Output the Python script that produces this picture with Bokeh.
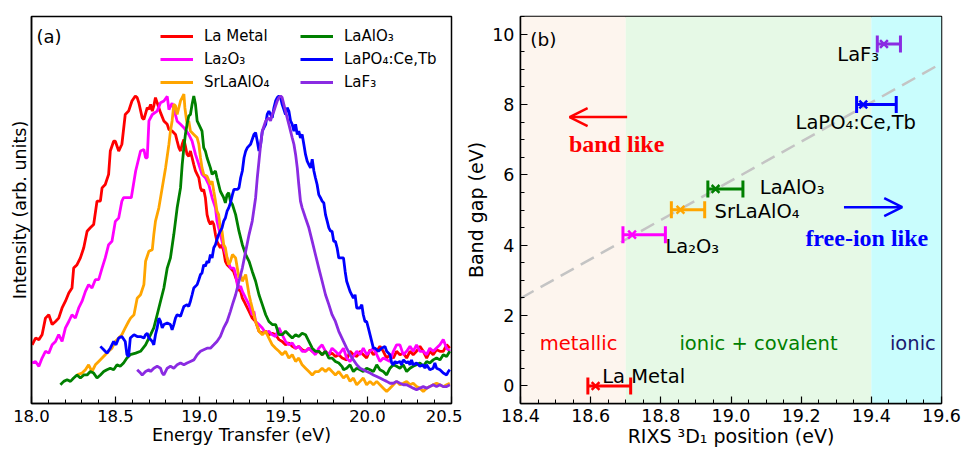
from bokeh.plotting import figure
from bokeh.layouts import row
from bokeh.models import (ColumnDataSource, SingleIntervalTicker, FixedTicker, PrintfTickFormatter,
                          Legend, LegendItem, Label, Arrow, OpenHead, BoxAnnotation)
from bokeh.embed import file_html
from bokeh.resources import INLINE

FONT = "DejaVu Sans"

# ---------------- Panel (a): RIXS spectra (normalised intensity, arb. units) ----------------
TAIL_E = [19.857, 19.876, 19.896, 19.916, 19.936, 19.956, 19.975, 19.995, 20.015, 20.035, 20.055,
          20.074, 20.094, 20.114, 20.134, 20.154, 20.173, 20.193, 20.213, 20.233, 20.253, 20.272,
          20.292, 20.312, 20.332, 20.352, 20.371, 20.391, 20.411, 20.431, 20.451, 20.471, 20.490]

LA_METAL_E = [18.004, 18.024, 18.044, 18.063, 18.083, 18.103, 18.123, 18.143, 18.162, 18.182,
              18.202, 18.222, 18.241, 18.251, 18.271, 18.291, 18.311, 18.331, 18.350, 18.370,
              18.390, 18.410, 18.420, 18.439, 18.459, 18.469, 18.489, 18.499, 18.519, 18.538,
              18.558, 18.578, 18.598, 18.618, 18.629, 18.639, 18.659, 18.669, 18.689, 18.699,
              18.709, 18.719, 18.728, 18.738, 18.748, 18.768, 18.788, 18.808, 18.818, 18.837,
              18.857, 18.867, 18.877, 18.887, 18.897, 18.907, 18.916, 18.926, 18.936, 18.946,
              18.956, 18.966, 18.976, 18.986, 18.996, 19.006, 19.015, 19.025, 19.035, 19.045,
              19.055, 19.065, 19.075, 19.085, 19.095, 19.104, 19.114, 19.124, 19.134, 19.144,
              19.154, 19.164, 19.184, 19.203, 19.223, 19.235, 19.245, 19.255, 19.265, 19.275,
              19.295, 19.314, 19.334, 19.354, 19.374, 19.394, 19.413, 19.433, 19.453, 19.473,
              19.492, 19.512, 19.532, 19.552, 19.572, 19.591, 19.611, 19.631, 19.651, 19.671,
              19.690, 19.710, 19.730, 19.750, 19.770, 19.789, 19.809, 19.829, 19.849, 19.876,
              19.896, 19.916, 19.936, 19.956, 19.975, 19.995, 20.015, 20.035, 20.055, 20.074,
              20.094, 20.114, 20.134, 20.154, 20.173, 20.193, 20.213, 20.233, 20.253, 20.272,
              20.292, 20.312, 20.332, 20.352, 20.371, 20.391, 20.411, 20.431, 20.451, 20.471,
              20.490]
LA_METAL_I = [0.191, 0.213, 0.208, 0.224, 0.278, 0.289, 0.257, 0.267, 0.278, 0.311,
              0.333, 0.360, 0.376, 0.441, 0.452, 0.474, 0.507, 0.561, 0.572, 0.583,
              0.659, 0.659, 0.702, 0.713, 0.746, 0.822, 0.854, 0.854, 0.822, 0.844,
              0.941, 0.952, 0.985, 1.001, 0.996, 0.979, 0.930, 0.925, 0.963, 0.958,
              0.974, 0.952, 0.969, 0.996, 0.979, 0.947, 0.920, 0.909, 0.892, 0.887,
              0.876, 0.854, 0.833, 0.822, 0.844, 0.860, 0.838, 0.811, 0.805, 0.822,
              0.800, 0.778, 0.757, 0.746, 0.735, 0.702, 0.691, 0.697, 0.670, 0.615,
              0.594, 0.583, 0.594, 0.583, 0.550, 0.528, 0.517, 0.507, 0.517, 0.496,
              0.463, 0.452, 0.441, 0.430, 0.398, 0.370, 0.365, 0.343, 0.333, 0.322,
              0.300, 0.278, 0.267, 0.235, 0.229, 0.235, 0.224, 0.229, 0.224, 0.208,
              0.202, 0.191, 0.197, 0.186, 0.180, 0.186, 0.175, 0.170, 0.180, 0.170,
              0.164, 0.170, 0.159, 0.170, 0.159, 0.164, 0.153, 0.159, 0.148, 0.142,
              0.170, 0.159, 0.153, 0.170, 0.159, 0.148, 0.175, 0.159, 0.170, 0.186,
              0.170, 0.148, 0.159, 0.148, 0.170, 0.159, 0.164, 0.148, 0.170, 0.159,
              0.170, 0.186, 0.170, 0.148, 0.170, 0.159, 0.175, 0.170, 0.170, 0.191,
              0.180]

LA2O3_E = [18.004, 18.024, 18.044, 18.063, 18.083, 18.103, 18.123, 18.143, 18.162, 18.182,
           18.202, 18.222, 18.241, 18.261, 18.281, 18.301, 18.321, 18.340, 18.360, 18.380,
           18.400, 18.420, 18.439, 18.459, 18.479, 18.499, 18.519, 18.538, 18.548, 18.594,
           18.620, 18.649, 18.669, 18.679, 18.689, 18.699, 18.719, 18.748, 18.768, 18.788,
           18.808, 18.818, 18.837, 18.857, 18.867, 18.887, 18.907, 18.936, 18.956, 18.976,
           18.996, 19.015, 19.035, 19.055, 19.075, 19.095, 19.104, 19.124, 19.144, 19.164,
           19.184, 19.205, 19.215, 19.225, 19.235, 19.245, 19.255, 19.275, 19.295, 19.314,
           19.324, 19.334, 19.354, 19.374, 19.394, 19.413, 19.433, 19.453, 19.473, 19.492,
           19.512, 19.532, 19.552, 19.572, 19.591, 19.611, 19.631, 19.651, 19.671, 19.690,
           19.710, 19.730, 19.750, 19.770, 19.789, 19.809, 19.829, 19.857, 19.876, 19.896,
           19.936, 19.956, 19.975, 19.995, 20.015, 20.035, 20.055, 20.074, 20.094, 20.134,
           20.154, 20.173, 20.193, 20.213, 20.233, 20.253, 20.272, 20.292, 20.312, 20.332,
           20.352, 20.371, 20.391, 20.431, 20.451, 20.471, 20.490]
LA2O3_I = [0.132, 0.137, 0.121, 0.148, 0.170, 0.164, 0.191, 0.202, 0.224, 0.202,
           0.246, 0.267, 0.289, 0.278, 0.311, 0.333, 0.365, 0.387, 0.376, 0.403,
           0.403, 0.441, 0.474, 0.517, 0.528, 0.593, 0.604, 0.659, 0.670, 0.670,
           0.757, 0.822, 0.827, 0.800, 0.800, 0.920, 0.941, 0.952, 0.979, 0.985,
           1.000, 0.957, 0.978, 0.940, 0.919, 0.909, 0.898, 0.876, 0.854, 0.811,
           0.778, 0.746, 0.735, 0.713, 0.670, 0.637, 0.594, 0.550, 0.507, 0.474,
           0.441, 0.441, 0.420, 0.387, 0.376, 0.382, 0.365, 0.343, 0.322, 0.289,
           0.300, 0.267, 0.257, 0.246, 0.229, 0.235, 0.224, 0.218, 0.246, 0.224,
           0.202, 0.191, 0.197, 0.180, 0.186, 0.170, 0.170, 0.180, 0.170, 0.159,
           0.180, 0.191, 0.170, 0.159, 0.180, 0.170, 0.159, 0.180, 0.148, 0.137,
           0.170, 0.159, 0.180, 0.159, 0.170, 0.180, 0.159, 0.137, 0.148, 0.137,
           0.170, 0.191, 0.191, 0.159, 0.170, 0.186, 0.170, 0.191, 0.170, 0.170,
           0.159, 0.180, 0.170, 0.191, 0.208, 0.180, 0.170]

SRLAALO4_E = [18.271, 18.301, 18.321, 18.340, 18.360, 18.380, 18.400, 18.420, 18.439, 18.459,
              18.479, 18.499, 18.519, 18.538, 18.558, 18.578,
              18.590, 18.610, 18.629, 18.649, 18.669, 18.679, 18.699, 18.719, 18.728, 18.738,
              18.758, 18.778, 18.798, 18.818, 18.827, 18.837, 18.847, 18.857, 18.867, 18.877,
              18.887, 18.897, 18.907, 18.913, 18.926, 18.936, 18.946, 18.966, 18.986, 18.996,
              19.006, 19.015, 19.025, 19.045, 19.065, 19.075, 19.085, 19.095, 19.104, 19.114,
              19.124, 19.134, 19.144, 19.154, 19.164, 19.174, 19.184,
              19.196, 19.215, 19.225, 19.235, 19.245, 19.255, 19.275, 19.285, 19.295, 19.304,
              19.314, 19.334, 19.354, 19.374, 19.394, 19.413, 19.433, 19.453, 19.473, 19.492,
              19.512, 19.532, 19.552, 19.572, 19.591, 19.611, 19.631, 19.651, 19.671, 19.690,
              19.710, 19.730, 19.750, 19.770, 19.789, 19.809, 19.829] + TAIL_E
SRLAALO4_I = [0.093, 0.099, 0.110, 0.126, 0.104, 0.126, 0.137, 0.148, 0.159, 0.170,
              0.180, 0.202, 0.213, 0.224, 0.246, 0.267,
              0.278, 0.289, 0.343, 0.354, 0.387, 0.463, 0.496, 0.501, 0.550, 0.594,
              0.637, 0.702, 0.767, 0.844, 0.887, 0.920, 0.974, 0.969, 0.941, 0.963,
              0.985, 0.996, 1.007, 0.963, 0.909, 0.920, 0.887, 0.876, 0.865, 0.844,
              0.800, 0.767, 0.746, 0.740, 0.713, 0.724, 0.691, 0.659, 0.626, 0.615,
              0.572, 0.561, 0.517, 0.507, 0.474, 0.452, 0.463,
              0.485, 0.474, 0.441, 0.409, 0.420, 0.398, 0.420, 0.387, 0.354, 0.333,
              0.311, 0.267, 0.235, 0.224, 0.235, 0.213, 0.191, 0.180, 0.170, 0.159,
              0.170, 0.148, 0.159, 0.137, 0.148, 0.126, 0.115, 0.104, 0.093, 0.104,
              0.104, 0.115, 0.104, 0.115, 0.104, 0.093, 0.104,
              0.083, 0.093, 0.072, 0.083, 0.061, 0.072, 0.083, 0.061, 0.072, 0.061,
              0.072, 0.061, 0.050, 0.039, 0.050, 0.061, 0.072, 0.061, 0.066, 0.072,
              0.061, 0.066, 0.055, 0.050, 0.039, 0.050, 0.055, 0.061, 0.066, 0.061,
              0.055, 0.061, 0.066]

LAALO3_E = [18.172, 18.192, 18.212, 18.232, 18.251, 18.271, 18.291, 18.311, 18.331, 18.350,
            18.370, 18.390, 18.410, 18.430, 18.449, 18.469, 18.489, 18.509, 18.528, 18.548,
            18.568, 18.588,
            18.620, 18.649, 18.679, 18.709, 18.728, 18.748, 18.768, 18.788, 18.808, 18.827,
            18.847, 18.867, 18.887, 18.897, 18.907, 18.916, 18.926, 18.936, 18.946, 18.956,
            18.966, 18.976, 18.986, 18.996, 19.015, 19.025, 19.035, 19.045, 19.065, 19.075,
            19.095, 19.104, 19.114, 19.124, 19.144, 19.154, 19.164, 19.174, 19.184,
            19.196, 19.215, 19.235, 19.255, 19.275, 19.295, 19.314, 19.334, 19.354, 19.374,
            19.394, 19.413, 19.433, 19.453, 19.473, 19.492, 19.512, 19.532, 19.552, 19.572,
            19.591, 19.611, 19.631, 19.651, 19.671, 19.690, 19.710, 19.730, 19.750, 19.770,
            19.789, 19.809, 19.829, 19.849] + TAIL_E
LAALO3_I = [0.061, 0.072, 0.077, 0.072, 0.083, 0.093, 0.083, 0.093, 0.093, 0.104,
            0.099, 0.083, 0.093, 0.104, 0.110, 0.115, 0.110, 0.126, 0.121, 0.132,
            0.148, 0.159,
            0.164, 0.170, 0.191, 0.224, 0.246, 0.289, 0.333, 0.376, 0.441, 0.474,
            0.550, 0.637, 0.702, 0.778, 0.833, 0.876, 0.909, 0.936, 0.941, 0.974,
            1.001, 0.974, 0.920, 0.909, 0.887, 0.833, 0.822, 0.800, 0.767, 0.746,
            0.757, 0.735, 0.713, 0.691, 0.670, 0.653, 0.680, 0.686, 0.659,
            0.648, 0.615, 0.561, 0.517, 0.485, 0.463, 0.430, 0.398, 0.354, 0.322,
            0.289, 0.267, 0.257, 0.257, 0.224, 0.224, 0.235, 0.224, 0.213, 0.224,
            0.218, 0.229, 0.224, 0.202, 0.180, 0.170, 0.170, 0.159, 0.170, 0.148,
            0.148, 0.137, 0.132, 0.120,
            0.110, 0.115, 0.126, 0.104, 0.115, 0.110, 0.104, 0.115, 0.110, 0.104,
            0.126, 0.110, 0.104, 0.093, 0.115, 0.126, 0.121, 0.115, 0.126, 0.104,
            0.115, 0.121, 0.126, 0.132, 0.121, 0.137, 0.132, 0.142, 0.148, 0.142,
            0.159, 0.153, 0.170]

LAPO4_E = [18.410, 18.430, 18.449, 18.469, 18.489, 18.503, 18.519, 18.538, 18.558, 18.568,
           18.578, 18.588,
           18.610, 18.629, 18.649, 18.669, 18.679, 18.689, 18.699, 18.709, 18.719, 18.728,
           18.738, 18.748, 18.758, 18.768, 18.778, 18.788, 18.808, 18.827, 18.837, 18.847,
           18.857, 18.867, 18.887, 18.897, 18.907, 18.926, 18.936, 18.946, 18.956, 18.966,
           18.986, 18.996, 19.006, 19.015, 19.025, 19.035, 19.045, 19.055, 19.065, 19.075,
           19.085, 19.095, 19.104, 19.114, 19.124, 19.134, 19.144, 19.154, 19.164, 19.174,
           19.184,
           19.196, 19.205, 19.225, 19.235, 19.245, 19.255, 19.265, 19.275, 19.285, 19.304,
           19.324, 19.334, 19.344, 19.354, 19.364, 19.374, 19.384, 19.394, 19.403, 19.413,
           19.423, 19.433, 19.443, 19.453, 19.463, 19.473, 19.483, 19.492, 19.502, 19.512,
           19.522, 19.532, 19.542, 19.552, 19.562, 19.572, 19.582, 19.591, 19.601, 19.611,
           19.621, 19.631, 19.641, 19.651, 19.661, 19.671, 19.681, 19.690, 19.700, 19.710,
           19.720, 19.730, 19.740, 19.750, 19.760, 19.770, 19.780, 19.789, 19.799, 19.809,
           19.819, 19.829, 19.839,
           19.857, 19.867, 19.876, 19.896, 19.916, 19.926, 19.936, 19.956, 19.966, 19.975,
           19.985, 19.995, 20.005, 20.015, 20.025, 20.035, 20.045, 20.065, 20.084, 20.104,
           20.114, 20.134, 20.144, 20.154, 20.164, 20.173, 20.193, 20.203, 20.213, 20.233,
           20.243, 20.253, 20.262, 20.272, 20.292, 20.312, 20.332, 20.342, 20.352, 20.371,
           20.391, 20.401, 20.411, 20.431, 20.451, 20.471, 20.481, 20.490]
LAPO4_I = [0.186, 0.175, 0.164, 0.180, 0.202, 0.191, 0.213, 0.218, 0.202, 0.159,
           0.153, 0.213,
           0.224, 0.218, 0.218, 0.213, 0.224, 0.229, 0.213, 0.208, 0.202, 0.191,
           0.224, 0.246, 0.278, 0.267, 0.246, 0.257, 0.262, 0.257, 0.240, 0.257,
           0.278, 0.289, 0.284, 0.300, 0.316, 0.322, 0.316, 0.333, 0.354, 0.376,
           0.387, 0.403, 0.420, 0.425, 0.452, 0.447, 0.463, 0.458, 0.485, 0.474,
           0.507, 0.517, 0.534, 0.550, 0.561, 0.572, 0.594, 0.604, 0.626, 0.637,
           0.653,
           0.680, 0.697, 0.697, 0.702, 0.735, 0.757, 0.800, 0.822, 0.833, 0.844,
           0.876, 0.882, 0.854, 0.822, 0.844, 0.887, 0.898, 0.909, 0.941, 0.952,
           0.941, 0.930, 0.963, 0.985, 0.996, 1.001, 0.996, 0.974, 0.958, 0.941,
           0.963, 0.952, 0.920, 0.909, 0.887, 0.909, 0.876, 0.887, 0.865, 0.876,
           0.844, 0.811, 0.789, 0.778, 0.767, 0.795, 0.757, 0.735, 0.713, 0.680,
           0.670, 0.659, 0.653, 0.615, 0.594, 0.572, 0.561, 0.561, 0.528, 0.528,
           0.507, 0.474, 0.474,
           0.474, 0.430, 0.398, 0.365, 0.343, 0.354, 0.311, 0.311, 0.322, 0.289,
           0.267, 0.267, 0.246, 0.224, 0.202, 0.180, 0.180, 0.170, 0.180, 0.186,
           0.170, 0.159, 0.132, 0.126, 0.137, 0.132, 0.137, 0.126, 0.142, 0.132,
           0.137, 0.126, 0.142, 0.126, 0.132, 0.121, 0.126, 0.115, 0.126, 0.110,
           0.115, 0.132, 0.115, 0.110, 0.099, 0.093, 0.104, 0.110]

LAF3_E = [18.629, 18.649, 18.659, 18.679, 18.699, 18.709, 18.728, 18.748, 18.768, 18.778,
          18.788, 18.808, 18.827, 18.847, 18.867, 18.887, 18.907, 18.926, 18.946, 18.966,
          18.986, 19.006, 19.025, 19.045, 19.065, 19.085, 19.104, 19.124, 19.144, 19.164,
          19.184,
          19.196, 19.215, 19.235, 19.255, 19.275, 19.295, 19.314, 19.334, 19.344, 19.354,
          19.364, 19.374, 19.394, 19.413, 19.423, 19.433, 19.443, 19.453, 19.463, 19.473,
          19.483, 19.492, 19.502, 19.512, 19.522, 19.532, 19.542, 19.552, 19.562, 19.572,
          19.582, 19.591, 19.601, 19.611, 19.631, 19.651, 19.671, 19.690, 19.710, 19.730,
          19.750, 19.770, 19.789, 19.809, 19.829] + TAIL_E
LAF3_I = [0.110, 0.099, 0.093, 0.104, 0.110, 0.104, 0.115, 0.121, 0.115, 0.099,
          0.093, 0.115, 0.121, 0.115, 0.126, 0.132, 0.126, 0.132, 0.137, 0.142,
          0.159, 0.170, 0.175, 0.180, 0.180, 0.191, 0.202, 0.218, 0.246, 0.267,
          0.300,
          0.322, 0.354, 0.398, 0.441, 0.496, 0.550, 0.594, 0.670, 0.735, 0.789,
          0.844, 0.887, 0.920, 0.930, 0.920, 0.941, 0.952, 0.969, 0.985, 0.996,
          1.001, 0.996, 0.974, 0.952, 0.930, 0.909, 0.887, 0.865, 0.844, 0.811,
          0.767, 0.713, 0.659, 0.637, 0.604, 0.572, 0.528, 0.485, 0.441, 0.398,
          0.354, 0.322, 0.289, 0.267, 0.235,
          0.202, 0.180, 0.159, 0.142, 0.126, 0.115, 0.110, 0.104, 0.099, 0.093,
          0.088, 0.083, 0.077, 0.072, 0.066, 0.066, 0.072, 0.066, 0.061, 0.061,
          0.055, 0.050, 0.045, 0.050, 0.055, 0.050, 0.055, 0.061, 0.055, 0.061,
          0.055, 0.055, 0.061]

SPECTRA = [
    ("La Metal", LA_METAL_E, LA_METAL_I, "#ff0000"),
    ("La\u2082O\u2083", LA2O3_E, LA2O3_I, "#ff00ff"),
    ("SrLaAlO\u2084", SRLAALO4_E, SRLAALO4_I, "#ffa500"),
    ("LaAlO\u2083", LAALO3_E, LAALO3_I, "#008000"),
    ("LaPO\u2084:Ce,Tb", LAPO4_E, LAPO4_I, "#0000ff"),
    ("LaF\u2083", LAF3_E, LAF3_I, "#8a2be2"),
]

# ---------------- Panel (b): band gap vs RIXS 3D1 position ----------------
MATERIALS = ["La Metal", "La\u2082O\u2083", "SrLaAlO\u2084", "LaAlO\u2083", "LaPO\u2084:Ce,Tb", "LaF\u2083"]
COLORS = ["#ff0000", "#ff00ff", "#ffa500", "#008000", "#0000ff", "#8a2be2"]
POSITION = [18.614, 18.718, 18.856, 18.956, 19.377, 19.436]
POS_LOW = [18.592, 18.692, 18.830, 18.934, 19.358, 19.417]
POS_HIGH = [18.714, 18.813, 18.925, 19.034, 19.471, 19.483]
BAND_GAP = [0.0, 4.30, 5.01, 5.60, 8.00, 9.72]

DASH_X = [18.4, 19.6]
DASH_Y = [2.49, 9.17]

REGION_EDGES = [18.4, 18.7, 19.4, 19.6]
REGION_FILLS = ["#fdf5ee", "#e6f9e6", "#c9fdfd"]


def style(p, tick_size, label_size):
    p.outline_line_color = "black"
    p.outline_line_width = 1.5
    p.outline_line_alpha = 1.0
    p.xgrid.visible = False
    p.ygrid.visible = False
    p.background_fill_color = "white"
    p.border_fill_color = "white"
    for ax in p.axis:
        ax.axis_line_color = "black"
        ax.axis_line_width = 1.5
        ax.major_tick_in = 7
        ax.major_tick_out = 0
        ax.minor_tick_in = 4
        ax.minor_tick_out = 0
        ax.major_tick_line_color = "black"
        ax.minor_tick_line_color = "black"
        ax.major_tick_line_width = 1.2
        ax.minor_tick_line_width = 1.0
        ax.major_label_text_font = FONT
        ax.major_label_text_font_size = tick_size
        ax.major_label_text_color = "black"
        ax.axis_label_text_font = FONT
        ax.axis_label_text_font_size = label_size
        ax.axis_label_text_font_style = "normal"
        ax.axis_label_text_color = "black"


# ---- left figure
p1 = figure(frame_width=420, frame_height=387, x_range=(18.0, 20.5), y_range=(0.0, 1.26),
            output_backend="svg", toolbar_location=None,
            min_border_left=31, min_border_right=11, min_border_top=16, min_border_bottom=0)
style(p1, "16.5px", "17.5px")
p1.xaxis.ticker = SingleIntervalTicker(interval=0.5, num_minor_ticks=5)
p1.xaxis.formatter = PrintfTickFormatter(format="%.1f")
p1.xaxis.axis_label = "Energy Transfer (eV)"
p1.xaxis.major_label_standoff = 6
p1.xaxis.axis_label_standoff = 0
p1.yaxis.ticker = FixedTicker(ticks=[], minor_ticks=[])
p1.yaxis.axis_label = "Intensity (arb. units)"
p1.yaxis.major_label_standoff = 0
p1.yaxis.axis_label_standoff = 2

renderers = []
for name, e, i, c in SPECTRA:
    n = min(len(e), len(i))
    src = ColumnDataSource(dict(x=e[:n], y=i[:n]))
    r = p1.line("x", "y", source=src, line_color=c, line_width=2.8)
    renderers.append((name, r))

for k, xoff in enumerate([129, 269]):
    items = [LegendItem(label=nm, renderers=[r]) for nm, r in renderers[3 * k:3 * k + 3]]
    leg = Legend(items=items, location=(xoff, 312), orientation="vertical",
                 background_fill_alpha=0, border_line_alpha=0,
                 label_text_font=FONT, label_text_font_size="15px", label_text_color="black",
                 glyph_width=33, glyph_height=18, label_height=18, spacing=5,
                 padding=0, margin=0, label_standoff=11)
    p1.add_layout(leg)

p1.add_layout(Label(x=18.03, y=1.194, text="(a)", text_font=FONT, text_font_size="18px",
                    text_baseline="middle", text_align="left", text_color="black"))

# ---- right figure
p2 = figure(frame_width=421, frame_height=387, x_range=(18.4, 19.6), y_range=(-0.5, 10.5),
            output_backend="svg", toolbar_location=None,
            min_border_left=58, min_border_right=22, min_border_top=16, min_border_bottom=0)
style(p2, "17.5px", "19px")
p2.xaxis.ticker = SingleIntervalTicker(interval=0.2, num_minor_ticks=4)
p2.xaxis.formatter = PrintfTickFormatter(format="%.1f")
p2.xaxis.axis_label = "RIXS \u00b3D\u2081 position (eV)"
p2.xaxis.major_label_standoff = 5
p2.xaxis.axis_label_standoff = 0
p2.yaxis.ticker = SingleIntervalTicker(interval=2, num_minor_ticks=4)
p2.yaxis.formatter = PrintfTickFormatter(format="%d")
p2.yaxis.axis_label = "Band gap (eV)"
p2.yaxis.major_label_standoff = 6
p2.yaxis.axis_label_standoff = 2

for k in range(3):
    p2.add_layout(BoxAnnotation(left=REGION_EDGES[k], right=REGION_EDGES[k + 1],
                                fill_color=REGION_FILLS[k], fill_alpha=1.0,
                                line_alpha=0, level="underlay"))

p2.line(DASH_X, DASH_Y, line_color="#c4c4c4", line_width=2.5, line_dash="15 8")

src_b = ColumnDataSource(dict(name=MATERIALS, color=COLORS, x=POSITION, lo=POS_LOW, hi=POS_HIGH, y=BAND_GAP))
p2.segment(x0="lo", y0="y", x1="hi", y1="y", source=src_b, line_color="color", line_width=3)
p2.scatter(x="lo", y="y", source=src_b, marker="dash", angle=1.5708, size=17,
           line_color="color", line_width=3)
p2.scatter(x="hi", y="y", source=src_b, marker="dash", angle=1.5708, size=17,
           line_color="color", line_width=3)
p2.scatter(x="x", y="y", source=src_b, marker="x", size=11, line_color="color", line_width=2.5)


def lab(x, y, text, color="black", size="19.5px", font=FONT, style="normal"):
    p2.add_layout(Label(x=x, y=y, text=text, text_color=color, text_font=font,
                        text_font_size=size, text_font_style=style,
                        text_baseline="middle", text_align="left"))


lab(19.303, 9.43, "LaF\u2083")
lab(19.184, 7.49, "LaPO\u2084:Ce,Tb")
lab(19.082, 5.65, "LaAlO\u2083")
lab(18.953, 4.97, "SrLaAlO\u2084")
lab(18.813, 3.95, "La\u2082O\u2083")
lab(18.633, 0.26, "La Metal")
lab(18.455, 1.21, "metallic", color="#ff0000")
lab(18.853, 1.21, "ionic + covalent", color="#008000")
lab(19.453, 1.21, "ionic", color="#191970")
lab(18.538, 6.88, "band like", color="#ff0000", size="24px", font="Liberation Serif", style="bold")
lab(19.212, 4.19, "free-ion like", color="#0000ff", size="24px", font="Liberation Serif", style="bold")
lab(18.428, 9.85, "(b)", size="18.5px")

p2.add_layout(Arrow(end=OpenHead(size=18, line_color="#ff0000", line_width=2.5),
                    x_start=18.704, y_start=7.64, x_end=18.540, y_end=7.64,
                    line_color="#ff0000", line_width=2.5))
p2.add_layout(Arrow(end=OpenHead(size=18, line_color="#0000ff", line_width=2.5),
                    x_start=19.322, y_start=5.08, x_end=19.488, y_end=5.08,
                    line_color="#0000ff", line_width=2.5))

layout = row(p1, p2)
open("out.html", "w").write(file_html(layout, INLINE))
